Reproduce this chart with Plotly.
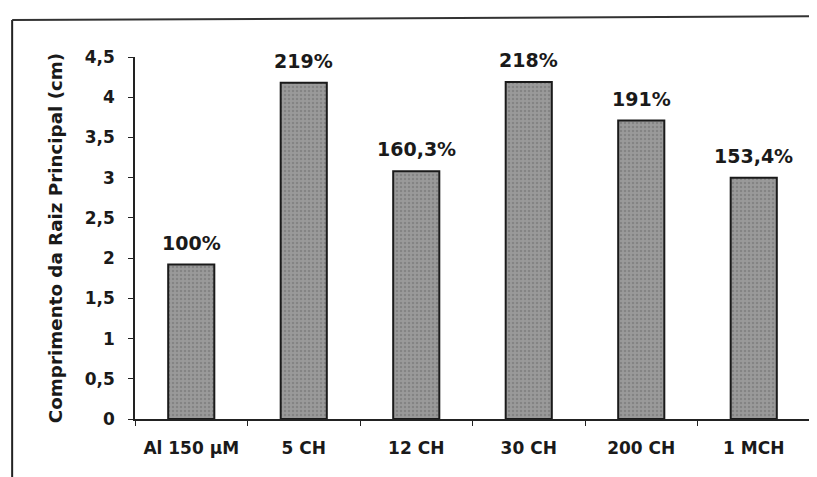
import plotly.graph_objects as go

# data
categories = ['Al 150 µM', '5 CH', '12 CH', '30 CH', '200 CH', '1 MCH']
root_length = [1.92, 4.18, 3.08, 4.19, 3.71, 3.00]
percent_labels = ['100%', '219%', '160,3%', '218%', '191%', '153,4%']
y_ticks = [0, 0.5, 1, 1.5, 2, 2.5, 3, 3.5, 4, 4.5]
y_tick_text = ['0', '0,5', '1', '1,5', '2', '2,5', '3', '3,5', '4', '4,5']

FONT = 'DejaVu Sans, Verdana, sans-serif'

fig = go.Figure()
fig.add_trace(go.Bar(
    x=categories, y=root_length,
    marker=dict(color='#8e8e8e', line=dict(color='#1a1a1a', width=2),
                pattern=dict(shape='.', bgcolor='#9a9a9a', fgcolor='#6e6e6e', size=4, solidity=0.3)),
    width=0.41, showlegend=False
))

for cat, val, lab in zip(categories, root_length, percent_labels):
    fig.add_annotation(x=cat, y=val, text=lab, showarrow=False, yanchor='bottom', yshift=9,
                       font=dict(family=FONT, size=19, color='#1a1a1a', weight='bold'))

# left and top edges of the scanned figure frame
fig.add_shape(type='line', xref='paper', yref='paper', x0=-0.182, x1=-0.182, y0=-0.2, y1=1.102,
              line=dict(color='#222', width=2))
fig.add_shape(type='line', xref='paper', yref='paper', x0=-0.182, x1=1.3, y0=1.102, y1=1.115,
              line=dict(color='#333', width=2))

# page body has an 8px margin, so the margins are shifted to compensate
fig.update_layout(
    width=817, height=477,
    margin=dict(l=127, r=15, t=49, b=66),
    paper_bgcolor='white', plot_bgcolor='white',
    font=dict(family=FONT, color='#1a1a1a'),
    xaxis=dict(
        showline=True, linecolor='#222', linewidth=1.5,
        ticks='outside', ticklen=5, tickcolor='#222', tickson='boundaries',
        tickfont=dict(family=FONT, size=17, weight='bold'),
        ticklabelstandoff=13, showgrid=False
    ),
    yaxis=dict(
        range=[0, 4.5], tickvals=y_ticks, ticktext=y_tick_text,
        showline=True, linecolor='#222', linewidth=1.5,
        ticks='outside', ticklen=5, tickcolor='#222',
        tickfont=dict(family=FONT, size=17, weight='bold'), ticklabelstandoff=10,
        showgrid=False, zeroline=False,
        title=dict(text='Comprimento da Raiz Principal (cm)', standoff=17,
                   font=dict(family=FONT, size=18.3, weight='bold'))
    )
)

fig.write_html("out.html")
